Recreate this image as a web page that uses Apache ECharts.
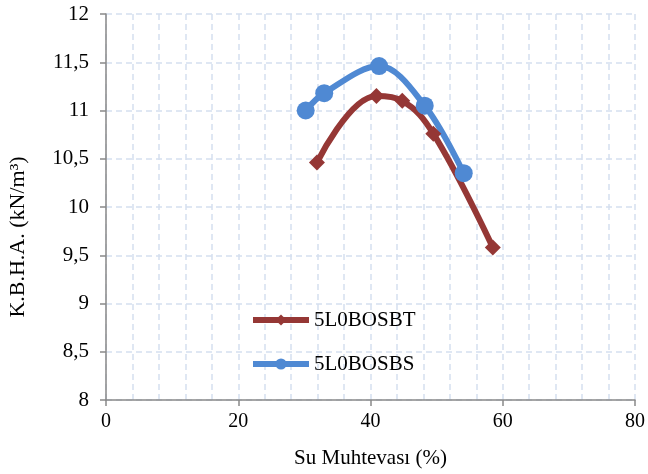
<!DOCTYPE html>
<html>
<head>
<meta charset="utf-8">
<script src="https://cdn.jsdelivr.net/npm/echarts@6/dist/echarts.min.js"></script>
<style>html,body{margin:0;padding:0;background:#fff}#c{width:648px;height:474px}</style>
</head>
<body>
<div id="c"></div>
<script>
const seriesNames = ['5L0BOSBT', '5L0BOSBS'];
const btX = [31.9, 40.9, 44.8, 49.5, 58.5];
const btY = [10.46, 11.15, 11.10, 10.76, 9.58];
const bsX = [30.2, 33.0, 41.3, 48.2, 54.1];
const bsY = [11.00, 11.18, 11.46, 11.05, 10.35];
const xTitle = 'Su Muhtevası (%)';
const yTitle = 'K.B.H.A. (kN/m³)';

const font = '"Liberation Serif", "Times New Roman", serif';
const chart = echarts.init(document.getElementById('c'), null, {renderer: 'canvas'});
const pair = (xs, ys) => xs.map((x, i) => [x, ys[i]]);
const gridLine = {show: true, lineStyle: {color: '#d5dff0', type: [6, 4], width: 1.5}};

chart.setOption({
  animation: false,
  backgroundColor: '#fff',
  grid: {left: 106, right: 12, top: 14, bottom: 74},
  legend: {
    orient: 'vertical', left: 245, top: 304, itemWidth: 56, itemHeight: 14, itemGap: 22,
    lineStyle: {width: 6},
    textStyle: {fontFamily: font, fontSize: 21, color: '#000', lineHeight: 22},
    data: seriesNames
  },
  graphic: [{
    type: 'text', left: 7, top: 'middle', rotation: Math.PI / 2,
    x: 18, y: 190,
    style: {text: yTitle, font: '22px ' + font, fill: '#000', textAlign: 'center', textVerticalAlign: 'middle'}
  }],
  xAxis: {
    type: 'value', min: 0, max: 80, interval: 20,
    name: xTitle, nameLocation: 'middle', nameGap: 48,
    nameTextStyle: {fontFamily: font, fontSize: 21, color: '#000'},
    axisLine: {show: true, lineStyle: {color: '#898989', width: 1.5}},
    axisTick: {show: true, length: 6, lineStyle: {color: '#898989', width: 1.5}},
    axisLabel: {fontFamily: font, fontSize: 20, color: '#000', margin: 12},
    splitLine: gridLine,
    minorTick: {show: false, splitNumber: 5},
    minorSplitLine: gridLine
  },
  yAxis: {
    type: 'value', min: 8, max: 12, interval: 0.5,
    axisLine: {show: true, lineStyle: {color: '#898989', width: 1.5}},
    axisTick: {show: true, length: 6, lineStyle: {color: '#898989', width: 1.5}},
    axisLabel: {fontFamily: font, fontSize: 21, color: '#000', margin: 17,
      formatter: v => String(v).replace('.', ',')},
    splitLine: gridLine
  },
  series: [
    {
      name: seriesNames[0], type: 'line', smooth: 0.4,
      data: pair(btX, btY),
      symbol: 'diamond', symbolSize: 16,
      lineStyle: {color: '#953735', width: 6},
      itemStyle: {color: '#953735'}
    },
    {
      name: seriesNames[1], type: 'line', smooth: 0.35,
      data: pair(bsX, bsY),
      symbol: 'circle', symbolSize: 18,
      lineStyle: {color: '#4F89D3', width: 6},
      itemStyle: {color: '#4F89D3'}
    }
  ]
});
</script>
</body>
</html>
